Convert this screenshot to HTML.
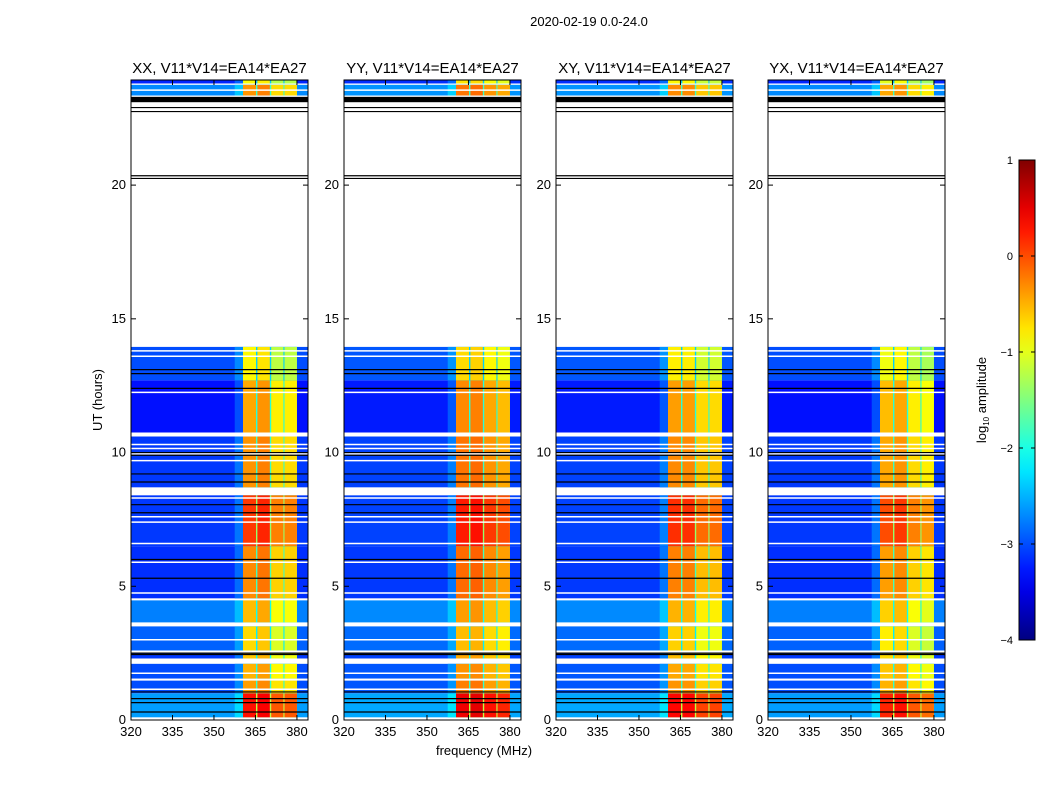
<!DOCTYPE html>
<html><head><meta charset="utf-8"><style>
body{margin:0;background:#fff;}
svg{display:block;font-family:"Liberation Sans",sans-serif;}
</style></head><body>
<svg id="fig" width="1050" height="800" viewBox="0 0 1050 800">
<text x="589" y="26" font-size="13" text-anchor="middle">2020-02-19 0.0-24.0</text>
<g id="panels"></g>
<text x="484" y="755" font-size="13" text-anchor="middle">frequency (MHz)</text>
<text transform="translate(102,400) rotate(-90)" font-size="13" text-anchor="middle">UT (hours)</text>
<defs><linearGradient id="jetg" x1="0" y1="1" x2="0" y2="0"></linearGradient></defs>
<g>
<rect x="1019" y="160" width="16" height="480" fill="url(#jetg)" stroke="#000" stroke-width="1"/>
</g>
<g id="cbticks"></g>
<text transform="translate(986,400) rotate(-90)" font-size="13" text-anchor="middle">log<tspan font-size="8" dy="3">10</tspan><tspan dy="-3"> amplitude</tspan></text>
</svg>
<script>
const panelTitles=["XX, V11*V14=EA14*EA27","YY, V11*V14=EA14*EA27","XY, V11*V14=EA14*EA27","YX, V11*V14=EA14*EA27"];
const panelLeft=[131,344,556,768];
const xTicks=[320,335,350,365,380];
const yTicks=[0,5,10,15,20];
const cbTicks=[1,0,-1,-2,-3,-4];
// time segments (hours) with data
const segStart=[0.1,1.0,1.55,2.3,2.6,3.65,4.55,6.5,8.7,10.75,12.7,23.35,23.8];
const segEnd  =[1.0,1.5,2.1,2.5,3.5,4.5,6.5,8.4,10.6,12.7,13.95,23.75,23.95];
const segBg   =[-2.6,-3.0,-3.0,-3.1,-2.9,-2.75,-3.15,-3.1,-3.1,-3.3,-3.0,-2.7,-3.2];
const segBand =[0.3,-0.4,-0.5,-0.6,-0.7,-0.55,-0.3,0.1,-0.35,-0.45,-0.85,-0.35,-0.9];
// per-panel offsets for the 4 RFI columns
const colOffXX=[0,0.1,-0.35,-0.35];
const colOffYY=[0.15,0.2,0,-0.1];
const colOffXY=[0.05,0.05,-0.25,-0.25];
const colOffYX=[-0.1,0,-0.35,-0.45];
const colOffs=[colOffXX,colOffYY,colOffXY,colOffYX];
const panelBgOff=[0,0.05,0.05,0];
// column frequency edges (MHz)
const colF0=[360.5,365.7,370.7,375.5];
const colF1=[365.2,370.2,375.1,380.0];
const whiteLines=[13.8,13.6,12.25,10.3,10.15,9.95,9.7,8.6,8.3,7.6,7.4,6.6,5.9,4.75,4.5,3.0,1.75,1.5,1.15,23.55];
const blackLines=[13.1,12.95,12.4,10.0,9.9,9.2,8.9,8.05,7.75,6.0,5.3,2.5,2.45,1.05,0.8,0.65,0.3,22.75,22.9,20.25,20.35];

const NS="http://www.w3.org/2000/svg";
const W=177,TOP=80,BOT=720,F0=320,F1=384,T1=23.93;
function jetT(t){t=Math.max(0,Math.min(1,t));
 const c=x=>Math.round(255*Math.max(0,Math.min(1,1.5-Math.abs(4*t-x))));
 return `rgb(${c(3)},${c(2)},${c(1)})`;}
function jet(v){return jetT((v+4)/5);}
const grad=document.getElementById('jetg');
for(let i=0;i<=20;i++){const s=document.createElementNS("http://www.w3.org/2000/svg",'stop');s.setAttribute('offset',i/20);s.setAttribute('stop-color',jetT(i/20));grad.appendChild(s);}
const yS=t=>BOT-(t/T1)*(BOT-TOP);
function mk(tag,attrs,parent){const e=document.createElementNS(NS,tag);for(const k in attrs)e.setAttribute(k,attrs[k]);parent.appendChild(e);return e;}
const root=document.getElementById('panels');
panelLeft.forEach((L,p)=>{
 const xS=f=>L+(f-F0)/(F1-F0)*W;
 const g=mk('g',{},root);
 
 
 const hm=mk('g',{},g);
 
 
 segStart.forEach((t0,i)=>{
  const y0=yS(segEnd[i]),y1=yS(t0),h=y1-y0;
  const bg=segBg[i]+panelBgOff[p];
  let r=mk('rect',{x:xS(F0),y:y0,width:xS(F1)-xS(F0),height:h,fill:jet(bg)},hm);
  
  
  r=mk('rect',{x:xS(357.5),y:y0,width:xS(360.5)-xS(357.5),height:h,fill:jet(bg+0.3)},hm);
  
  
  r=mk('rect',{x:xS(colF0[0]),y:y0,width:xS(colF1[3])-xS(colF0[0]),height:h,fill:jet(segBand[i]-1.5)},hm);
  
  
  colF0.forEach((f0,c)=>{
   const r2=mk('rect',{x:xS(f0),y:y0,width:xS(colF1[c])-xS(f0),height:h,fill:jet(segBand[i]+colOffs[p][c])},hm);
   
   
  });
 });
 whiteLines.forEach(t=>{const l=mk('line',{x1:L,x2:L+W,y1:yS(t),y2:yS(t),stroke:'#fff','stroke-width':1.5},g);
  });
 blackLines.forEach(t=>{const l=mk('line',{x1:L,x2:L+W,y1:yS(t),y2:yS(t),stroke:'#000','stroke-width':1.2},g);
  });
 let bb=mk('rect',{x:L,y:yS(23.3),width:W,height:yS(23.1)-yS(23.3),fill:'#000'},g);
 
 const fr=mk('rect',{x:L,y:TOP,width:W,height:BOT-TOP,fill:'none',stroke:'#000','stroke-width':1},g);
 
 const tt=mk('text',{x:L+W/2,y:73,'font-size':15,'text-anchor':'middle'},g);
 tt.textContent=panelTitles[p];
 
 xTicks.forEach(v=>{const x=xS(v);
  mk('line',{x1:x,x2:x,y1:BOT,y2:BOT-5,stroke:'#000'},g);mk('line',{x1:x,x2:x,y1:TOP,y2:TOP+5,stroke:'#000'},g);
  const t=mk('text',{x:x,y:BOT+16,'font-size':13,'text-anchor':'middle'},g);t.textContent=v;
  });
 yTicks.forEach(v=>{const y=yS(v);
  mk('line',{x1:L,x2:L+5,y1:y,y2:y,stroke:'#000'},g);mk('line',{x1:L+W,x2:L+W-5,y1:y,y2:y,stroke:'#000'},g);
  const t=mk('text',{x:L-5,y:y+4,'font-size':13,'text-anchor':'end'},g);t.textContent=v;
  });
});
const cb=document.getElementById('cbticks');
cbTicks.forEach(v=>{const y=160+(1-v)*96;
 mk('line',{x1:1019,x2:1023,y1:y,y2:y,stroke:'#000'},cb);mk('line',{x1:1035,x2:1031,y1:y,y2:y,stroke:'#000'},cb);
 const t=mk('text',{x:1013,y:y+4,'font-size':11,'text-anchor':'end'},cb);t.textContent=v<0?'\u2212'+(-v):v;
 });
</script>
</body></html>
